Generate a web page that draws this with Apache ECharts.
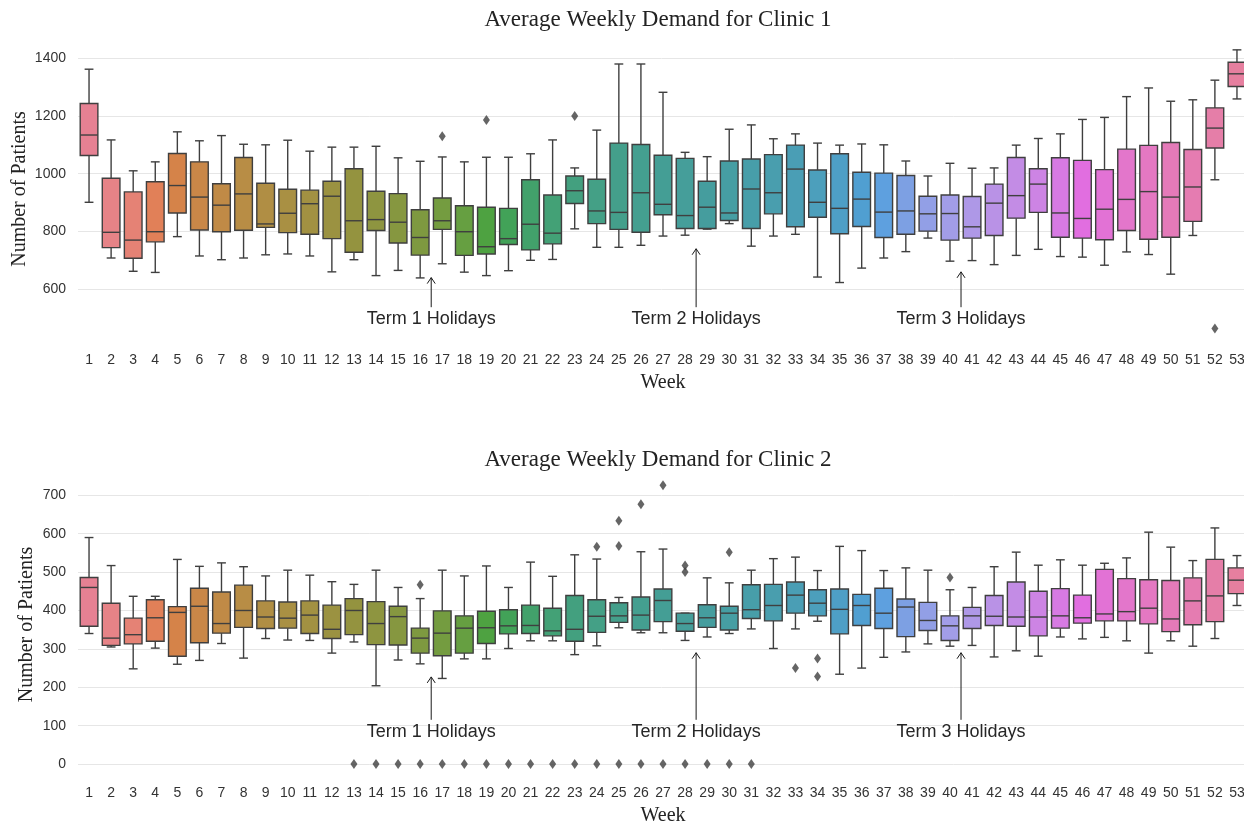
<!DOCTYPE html>
<html>
<head>
<meta charset="utf-8">
<script src="https://cdn.jsdelivr.net/npm/echarts@6/dist/echarts.min.js"></script>
<style>
html, body { margin: 0; padding: 0; background: #fff; }
#main { width: 1244px; height: 822px; }
</style>
</head>
<body>
<div id="main"></div>
<script>
var weeks = ['1','2','3','4','5','6','7','8','9','10','11','12','13','14','15','16','17','18','19','20',
  '21','22','23','24','25','26','27','28','29','30','31','32','33','34','35','36','37','38','39','40',
  '41','42','43','44','45','46','47','48','49','50','51','52','53'];

// clinic 1 box stats per week
var c1Low  = [901,708,662,658,782,715,702,708,719,722,715,660,702,647,665,639,688,659,647,664,700,703,809,745,745,752,784,787,808,827,749,784,790,642,623,673,708,730,777,697,699,685,717,738,713,711,683,729,720,652,786,979,1259];
var c1Q1   = [1063,744,707,764,864,805,799,804,814,796,790,775,728,803,760,718,807,717,722,755,736,757,897,827,807,797,858,810,810,838,810,861,816,849,792,817,779,790,801,770,777,786,846,866,780,777,771,803,773,780,835,1089,1302];
var c1Med  = [1134,797,770,799,959,919,891,930,826,863,896,922,837,841,832,779,837,799,747,775,825,794,941,871,866,934,894,855,884,864,947,934,1016,901,880,912,867,871,861,862,816,898,924,964,864,845,877,911,938,919,954,1158,1346];
var c1Q3   = [1243,984,937,972,1070,1041,965,1056,967,946,943,974,1017,939,931,875,916,889,884,880,979,926,992,981,1106,1101,1064,1053,974,1044,1051,1066,1099,1013,1069,1005,1002,994,922,926,921,964,1056,1017,1055,1046,1014,1085,1098,1108,1084,1228,1386];
var c1High = [1362,1117,1010,1041,1145,1114,1132,1102,1100,1116,1078,1092,1092,1095,1055,1043,1058,1041,1057,1057,1069,1117,1020,1151,1380,1380,1282,1074,1059,1154,1169,1121,1138,1106,1099,1103,1100,1044,992,1036,1019,1020,1099,1122,1138,1188,1195,1267,1297,1251,1256,1324,1429];
var c1Outliers = [[17,1130],[19,1186],[23,1200],[52,464]];

// clinic 2 box stats per week
var c2Low  = [340,305,248,302,260,270,314,276,327,323,322,289,318,204,271,261,223,274,274,301,321,321,285,308,355,342,342,322,331,340,352,301,352,372,234,250,278,292,313,307,309,279,295,281,331,326,330,321,289,321,307,327,413];
var c2Q1   = [359,309,313,320,281,316,341,356,353,354,340,327,337,311,310,289,282,289,314,339,340,334,320,343,369,349,371,346,356,349,379,373,393,386,339,361,353,332,348,322,353,361,359,334,354,367,373,373,365,345,363,371,444];
var c2Med  = [460,328,337,381,395,411,366,400,383,380,388,351,400,366,384,328,341,354,355,360,361,347,351,385,386,388,426,366,381,393,402,413,440,419,403,413,393,409,374,360,386,385,383,383,386,381,391,397,406,378,425,438,479];
var c2Q3   = [486,419,380,428,410,458,448,466,425,422,425,414,431,423,411,354,399,386,398,402,414,406,439,428,420,435,456,393,415,411,467,468,474,454,456,442,458,430,421,386,408,439,474,450,457,440,507,483,480,478,485,533,511];
var c2High = [590,517,437,437,533,515,524,514,490,505,492,475,468,505,460,431,505,490,516,460,526,489,545,534,434,553,560,393,485,472,505,535,539,504,567,556,504,511,505,454,460,514,552,518,532,518,523,537,604,565,530,615,543];
var c2Outliers = [[13,0],[14,0],[15,0],[16,0],[16,467],[17,0],[18,0],[19,0],[20,0],[21,0],[22,0],[23,0],
  [24,0],[24,566],[25,0],[25,634],[25,568],[26,0],[26,677],[27,0],[27,726],[28,0],[28,517],[28,500],
  [29,0],[30,0],[30,552],[31,0],[33,250],[34,275],[34,228],[40,486]];

// holiday annotations: x position between weeks, text value, arrow tip value
var holidayLabels = ['Term 1 Holidays', 'Term 2 Holidays', 'Term 3 Holidays'];
var holidayX = [15.5, 27.5, 39.5];
var c1HolidayText = [496, 496, 496];
var c1HolidayTip = [640, 740, 660];
var c2HolidayText = [84, 84, 84];
var c2HolidayTip = [227, 290, 290];

// seaborn style husl palette
var m = [[3.2406, -1.5372, -0.4986], [-0.9689, 1.8758, 0.0415], [0.0557, -0.2040, 1.0570]];
function maxChroma(L, H) {
  var hrad = H / 180 * Math.PI, sinH = Math.sin(hrad), cosH = Math.cos(hrad);
  var sub1 = Math.pow(L + 16, 3) / 1560896;
  var sub2 = sub1 > 0.008856 ? sub1 : L / 903.3;
  var result = Infinity;
  m.forEach(function (row) {
    var top = (0.99915 * row[0] + 1.05122 * row[1] + 1.14460 * row[2]) * sub2;
    var rb = 0.86330 * row[2] - 0.17266 * row[1];
    var lb = 0.12949 * row[2] - 0.38848 * row[0];
    var bottom = (rb * sinH + lb * cosH) * sub2;
    [0, 1].forEach(function (t) {
      var C = L * (top - 1.05122 * t) / (bottom + 0.17266 * sinH * t);
      if (C > 0 && C < result) result = C;
    });
  });
  return result;
}
function huslToRgb(H, S, L) {
  var C = maxChroma(L, H) / 100 * S;
  var hrad = H / 180 * Math.PI;
  var U = Math.cos(hrad) * C, V = Math.sin(hrad) * C;
  var t = (L + 16) / 116;
  var varY = Math.pow(t, 3) > 0.008856 ? Math.pow(t, 3) : (116 * t - 16) / 903.3;
  var varU = U / (13 * L) + 0.19784, varV = V / (13 * L) + 0.46834;
  var Y = varY;
  var X = 0 - (9 * Y * varU) / ((varU - 4) * varV - varU * varV);
  var Z = (9 * Y - 15 * varV * Y - varV * X) / (3 * varV);
  return m.map(function (row) {
    var c = row[0] * X + row[1] * Y + row[2] * Z;
    c = c <= 0.0031308 ? 12.92 * c : 1.055 * Math.pow(c, 1 / 2.4) - 0.055;
    return Math.min(1, Math.max(0, c));
  });
}
function rgbToHls(r, g, b) {
  var mx = Math.max(r, g, b), mn = Math.min(r, g, b), l = (mx + mn) / 2;
  if (mx === mn) return [0, l, 0];
  var s = l <= 0.5 ? (mx - mn) / (mx + mn) : (mx - mn) / (2 - mx - mn);
  var rc = (mx - r) / (mx - mn), gc = (mx - g) / (mx - mn), bc = (mx - b) / (mx - mn);
  var h = r === mx ? bc - gc : (g === mx ? 2 + rc - bc : 4 + gc - rc);
  h = ((h / 6) % 1 + 1) % 1;
  return [h, l, s];
}
function hlsToRgb(h, l, s) {
  if (s === 0) return [l, l, l];
  var m2 = l <= 0.5 ? l * (1 + s) : l + s - l * s, m1 = 2 * l - m2;
  function v(hue) {
    hue = ((hue % 1) + 1) % 1;
    if (hue < 1 / 6) return m1 + (m2 - m1) * hue * 6;
    if (hue < 0.5) return m2;
    if (hue < 2 / 3) return m1 + (m2 - m1) * (2 / 3 - hue) * 6;
    return m1;
  }
  return [v(h + 1 / 3), v(h), v(h - 1 / 3)];
}
function toHex(c) {
  return '#' + c.map(function (x) {
    var s = Math.round(x * 255).toString(16);
    return s.length < 2 ? '0' + s : s;
  }).join('');
}
var boxColors = [], minLight = 1;
for (var i = 0; i < weeks.length; i++) {
  var hue = ((i / weeks.length + 0.01) % 1) * 359;
  var rgb = huslToRgb(hue, 0.9 * 99, 0.65 * 99);
  var hls = rgbToHls(rgb[0], rgb[1], rgb[2]);
  minLight = Math.min(minLight, hls[1]);
  boxColors.push(toHex(hlsToRgb(hls[0], hls[1], hls[2] * 0.75)));
}
var lum = minLight * 0.6;
var edgeGray = toHex([lum, lum, lum]);

function boxData(low, q1, med, q3, high) {
  return weeks.map(function (w, i) { return [i, low[i], q1[i], med[i], q3[i], high[i]]; });
}
function outlierData(list) {
  return list.map(function (d) { return [d[0] - 1, d[1]]; });
}
function holidayData(text, tip) {
  return holidayX.map(function (x, i) { return [x, text[i], tip[i]]; });
}

function renderBox(params, api) {
  var x = api.value(0);
  var low = api.coord([x, api.value(1)]);
  var q1 = api.coord([x, api.value(2)]);
  var med = api.coord([x, api.value(3)]);
  var q3 = api.coord([x, api.value(4)]);
  var high = api.coord([x, api.value(5)]);
  var band = api.size([1, 0])[0];
  var bw = band * 0.8, cw = bw / 4;
  var cx = low[0];
  var ls = { stroke: edgeGray, lineWidth: 1.4 };
  return {
    type: 'group',
    children: [
      { type: 'line', shape: { x1: cx, y1: high[1], x2: cx, y2: q3[1] }, style: ls },
      { type: 'line', shape: { x1: cx, y1: q1[1], x2: cx, y2: low[1] }, style: ls },
      { type: 'line', shape: { x1: cx - cw, y1: high[1], x2: cx + cw, y2: high[1] }, style: ls },
      { type: 'line', shape: { x1: cx - cw, y1: low[1], x2: cx + cw, y2: low[1] }, style: ls },
      { type: 'rect', shape: { x: cx - bw / 2, y: q3[1], width: bw, height: q1[1] - q3[1] },
        style: { fill: boxColors[params.dataIndex], stroke: edgeGray, lineWidth: 1.4 } },
      { type: 'line', shape: { x1: cx - bw / 2, y1: med[1], x2: cx + bw / 2, y2: med[1] }, style: ls }
    ]
  };
}

function renderHoliday(params, api) {
  var txt = api.coord([api.value(0), api.value(1)]);
  var tip = api.coord([api.value(0), api.value(2)]);
  var tail = txt[1] - 12;
  var ls = { stroke: '#1a1a1a', lineWidth: 1 };
  return {
    type: 'group',
    children: [
      { type: 'text', x: txt[0], y: txt[1],
        style: { text: holidayLabels[params.dataIndex], fontFamily: 'Liberation Sans', fontSize: 18,
                 fill: '#262626', align: 'center', verticalAlign: 'middle' } },
      { type: 'line', shape: { x1: tip[0], y1: tail, x2: tip[0], y2: tip[1] }, style: ls },
      { type: 'line', shape: { x1: tip[0] - 4, y1: tip[1] + 6, x2: tip[0], y2: tip[1] }, style: ls },
      { type: 'line', shape: { x1: tip[0] + 4, y1: tip[1] + 6, x2: tip[0], y2: tip[1] }, style: ls }
    ]
  };
}

var tickText = { fontFamily: 'Liberation Sans', fontSize: 14, color: '#333' };
var serifName = { fontFamily: 'Liberation Serif', fontSize: 20, color: '#222' };

function catAxis(grid, margin, gap) {
  return {
    type: 'category', gridIndex: grid, data: weeks, boundaryGap: true,
    axisLine: { show: false }, axisTick: { show: false }, splitLine: { show: false },
    axisLabel: Object.assign({ margin: margin, interval: 0 }, tickText),
    name: 'Week', nameLocation: 'middle', nameGap: gap, nameTextStyle: serifName
  };
}
function valAxis(grid, min, max, split, gap) {
  return {
    type: 'value', gridIndex: grid, min: min, max: max, splitNumber: split,
    axisLine: { show: false }, axisTick: { show: false },
    axisLabel: Object.assign({
      margin: 12, showMinLabel: false, showMaxLabel: false,
      formatter: function (v) { return String(v); }
    }, tickText),
    splitLine: { show: true, showMinLine: false, showMaxLine: false, lineStyle: { color: '#e6e6e6', width: 1 } },
    name: 'Number of Patients', nameLocation: 'middle', nameGap: gap, nameMoveOverlap: false,
    nameTextStyle: serifName
  };
}
function hiddenX(grid) {
  return { type: 'value', gridIndex: grid, min: -0.5, max: 52.5, show: false };
}

var myChart = echarts.init(document.getElementById('main'));
myChart.setOption({
  backgroundColor: '#fff',
  animation: false,
  title: [
    { text: 'Average Weekly Demand for Clinic 1', left: 653, top: 3, textAlign: 'center',
      textStyle: { fontFamily: 'Liberation Serif', fontSize: 23, fontWeight: 'normal', color: '#222' } },
    { text: 'Average Weekly Demand for Clinic 2', left: 653, top: 443, textAlign: 'center',
      textStyle: { fontFamily: 'Liberation Serif', fontSize: 23, fontWeight: 'normal', color: '#222' } }
  ],
  grid: [
    { left: 78, top: 36, width: 1170, height: 306, outerBoundsMode: 'none', containLabel: false },
    { left: 78, top: 471.5, width: 1170, height: 306, outerBoundsMode: 'none', containLabel: false }
  ],
  xAxis: [catAxis(0, 11, 31), catAxis(1, 9, 28), hiddenX(0), hiddenX(1)],
  yAxis: [valAxis(0, 417, 1477, 5, 48), valAxis(1, -35, 762, 7, 41)],
  series: [
    { type: 'custom', name: 'Clinic 1', xAxisIndex: 0, yAxisIndex: 0, renderItem: renderBox,
      encode: { x: 0, y: [1, 2, 3, 4, 5] }, data: boxData(c1Low, c1Q1, c1Med, c1Q3, c1High) },
    { type: 'scatter', xAxisIndex: 0, yAxisIndex: 0, symbol: 'diamond', symbolSize: [7, 10],
      itemStyle: { color: edgeGray }, data: outlierData(c1Outliers), z: 3 },
    { type: 'custom', xAxisIndex: 2, yAxisIndex: 0, renderItem: renderHoliday,
      encode: { x: 0, y: [1, 2] }, data: holidayData(c1HolidayText, c1HolidayTip) },
    { type: 'custom', name: 'Clinic 2', xAxisIndex: 1, yAxisIndex: 1, renderItem: renderBox,
      encode: { x: 0, y: [1, 2, 3, 4, 5] }, data: boxData(c2Low, c2Q1, c2Med, c2Q3, c2High) },
    { type: 'scatter', xAxisIndex: 1, yAxisIndex: 1, symbol: 'diamond', symbolSize: [7, 10],
      itemStyle: { color: edgeGray }, data: outlierData(c2Outliers), z: 3 },
    { type: 'custom', xAxisIndex: 3, yAxisIndex: 1, renderItem: renderHoliday,
      encode: { x: 0, y: [1, 2] }, data: holidayData(c2HolidayText, c2HolidayTip) }
  ]
});
</script>
</body>
</html>
